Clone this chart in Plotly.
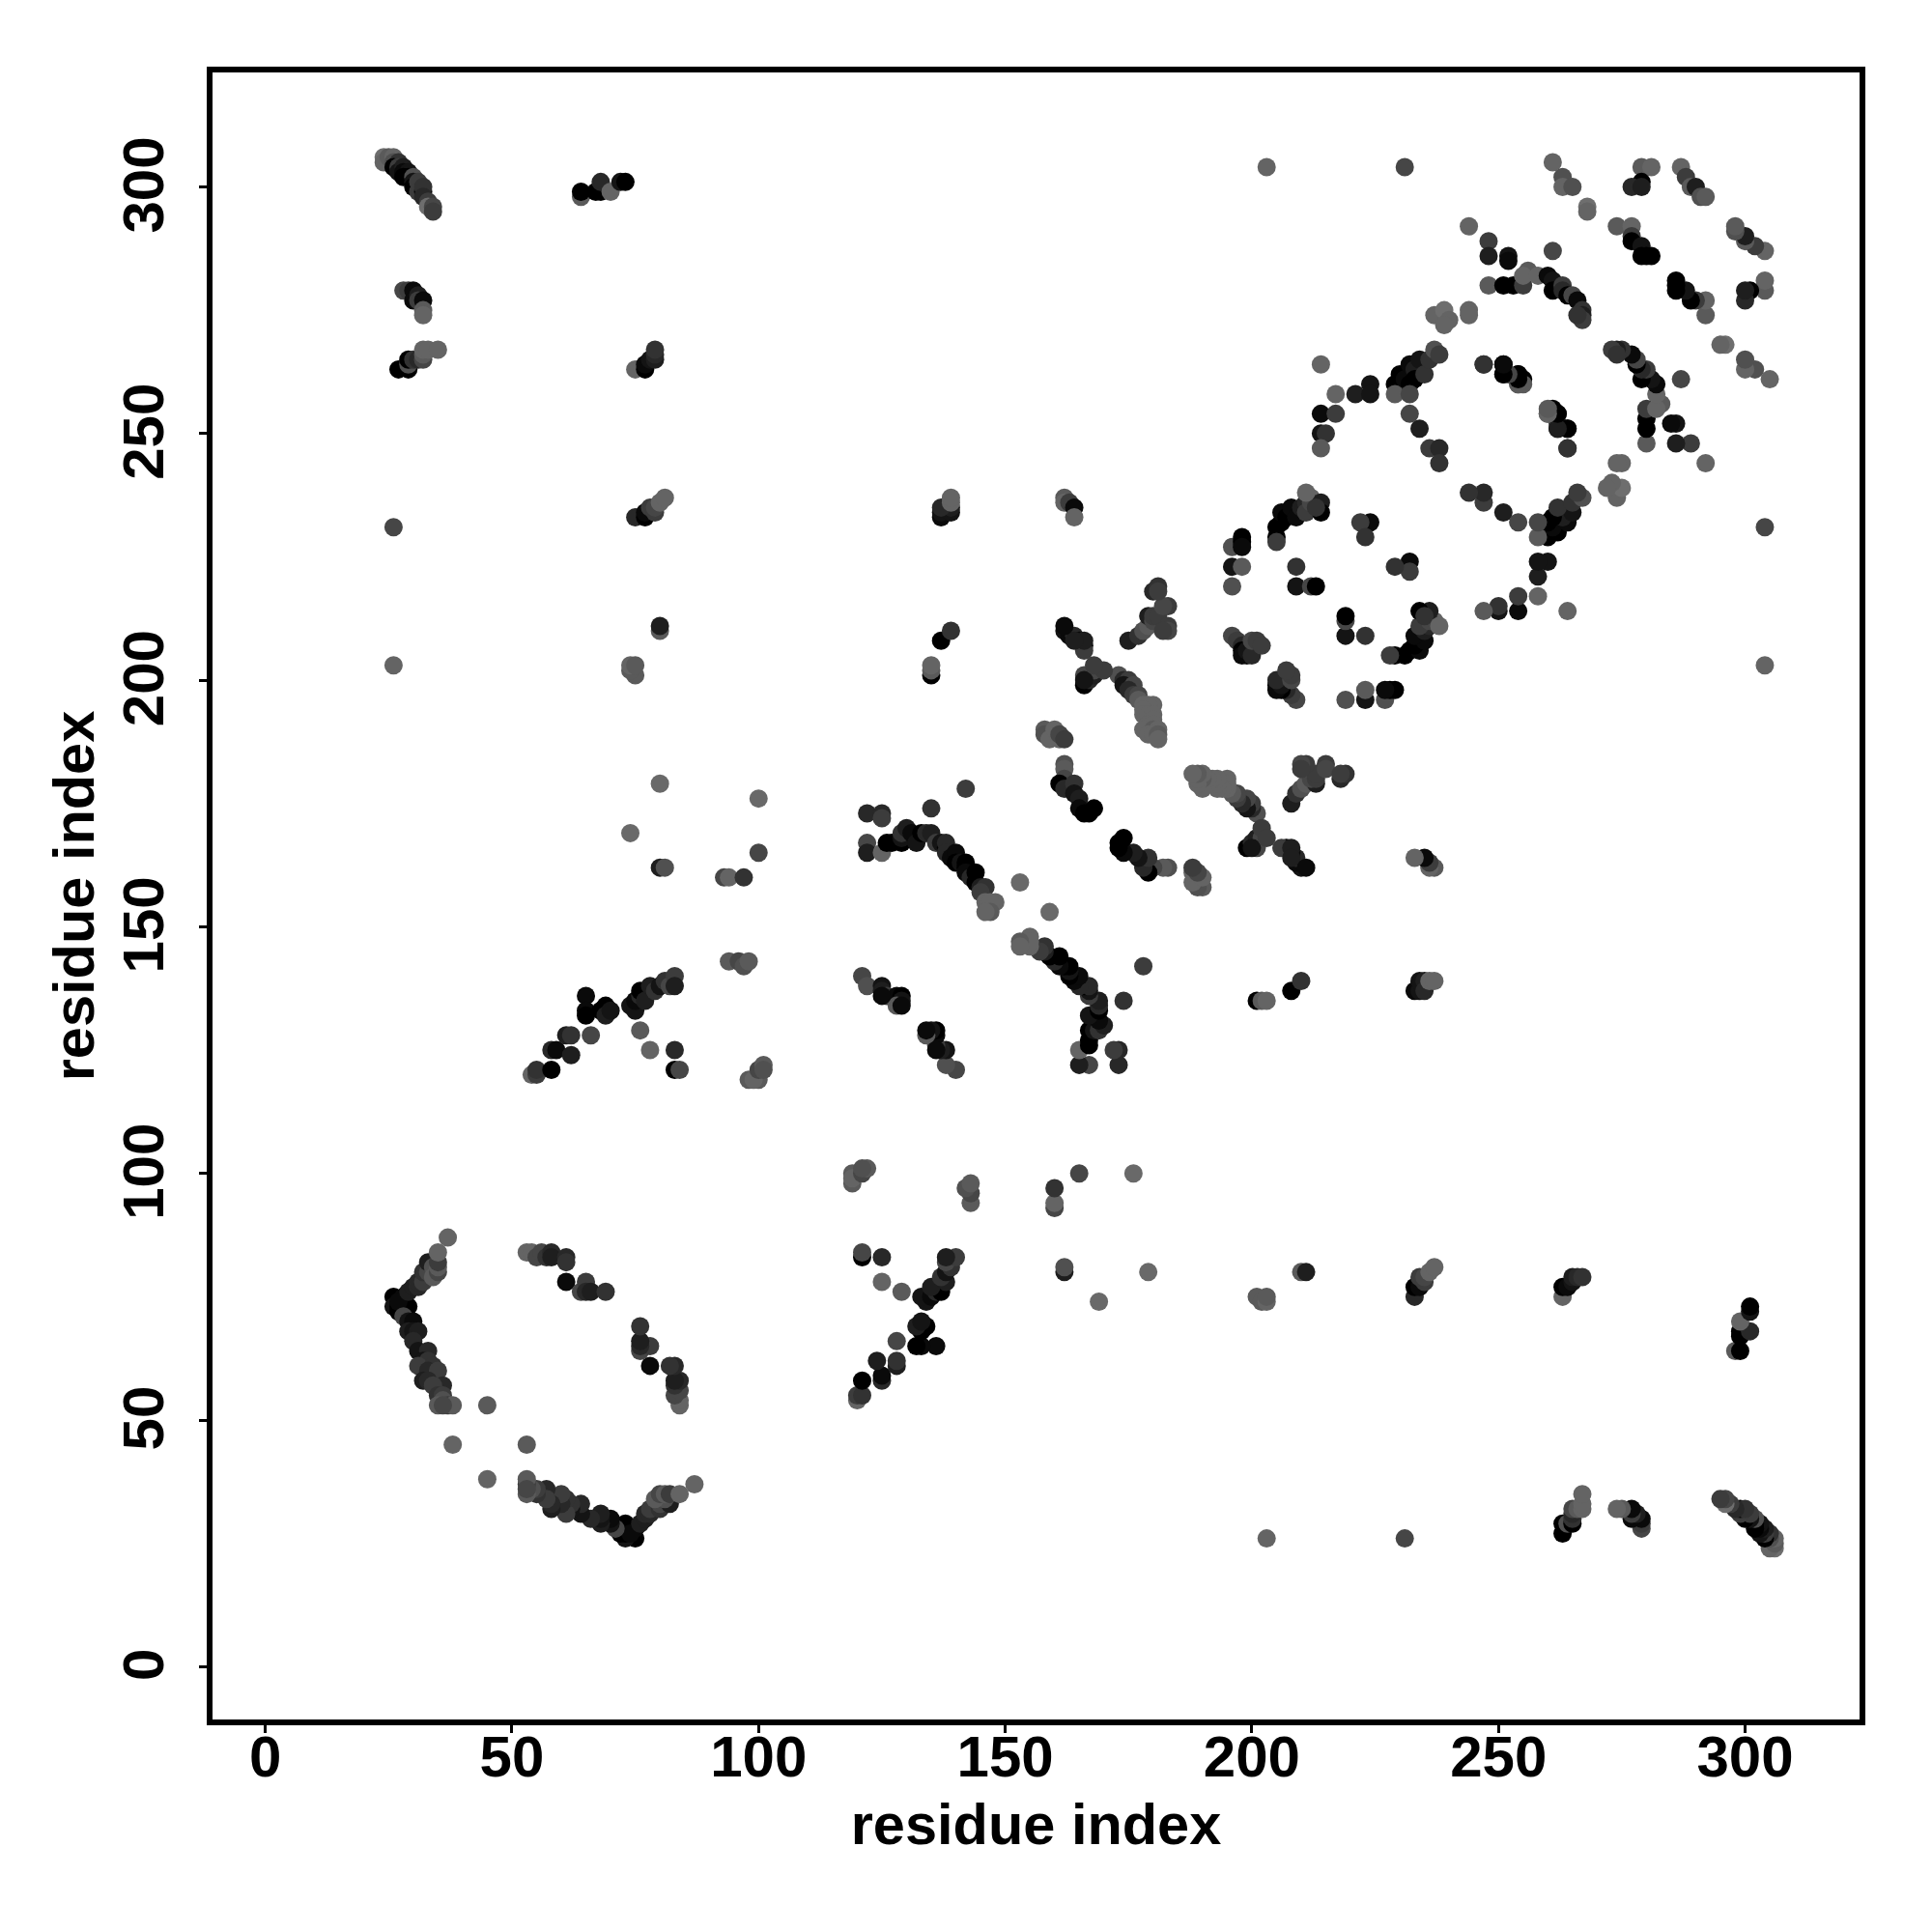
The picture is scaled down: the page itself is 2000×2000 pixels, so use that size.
import plotly.graph_objects as go

contacts = [
 (24,306,110),(24,305,100),(25,306,90),(26,306,100),(26,305,80),(27,305,50),(26,304,0),(27,304,60),(27,303,20),(28,304,30),(28,303,10),(29,303,20),(28,302,0),(29,302,0),(30,302,80),(30,301,20),(30,300,0),(31,300,0),(31,301,60),(31,299,60),(32,299,10),(32,300,50),(32,298,40),(33,297,60),(33,296,110),(34,296,70),(34,295,60),
 (64,298,90),(64,299,0),(67,299,0),(68,299,0),(68,301,40),(70,299,100),(72,301,20),(73,301,0),
 (28,279,70),(29,279,60),(30,279,10),(30,277,10),(31,278,30),(31,277,60),(32,277,10),(32,275,90),(32,274,100),
 (27,263,0),(29,263,0),(29,264,80),(29,265,0),(30,265,50),(31,265,40),(32,265,70),(32,266,90),(32,267,100),(33,267,100),(35,267,100),
 (75,263,100),(77,263,0),(77,264,10),(78,265,20),(79,265,30),(79,266,40),(79,267,50),
 (26,231,70),(26,203,100),
 (75,233,40),(77,233,0),(77,234,10),(78,235,60),(79,234,60),(79,235,70),(80,236,100),(81,237,100),
 (80,210,90),(80,211,30),(75,201,90),(74,202,90),(74,203,100),(75,203,90),
 (80,179,105),(74,169,105),(80,162,30),(81,162,80),
 (93,160,70),(94,160,100),(97,160,50),(100,176,105),(100,165,70),
 (137,233,10),(137,234,20),(139,234,20),(139,235,30),(137,235,40),(139,236,100),(139,237,100),
 (137,208,0),(139,210,50),(135,201,0),(135,202,90),(135,203,100),
 (162,237,90),(162,236,100),(163,236,60),(164,235,10),(164,233,100),
 (122,173,40),(125,173,40),(125,172,60),(122,167,70),(122,165,30),(125,165,100),(126,167,0),(127,167,0),(129,167,0),
 (129,168,20),(129,169,50),(130,170,30),(131,169,10),(132,167,20),
 (133,169,0),(134,169,40),(135,169,30),(136,167,60),(137,167,20),(138,166,0),(138,167,40),(138,165,40),(139,164,10),(140,165,10),(140,163,0),(141,163,20),(142,163,0),(142,162,0),(142,161,10),(143,160,40),(144,161,0),(144,159,0),(145,158,30),(146,158,50),(145,157,60),(146,155,100),(148,155,100),(147,155,100),(147,153,90),(146,153,100),
 (135,174,50),(142,178,60),(153,159,105),
 (162,183,80),(162,182,90),(162,180,70),(161,179,0),(162,178,40),(164,179,50),(164,177,20),(165,176,30),(165,174,10),(166,173,0),(167,173,0),(168,174,0),
 (158,190,90),(158,189,80),(159,188,100),(160,190,100),(161,188,100),(161,189,70),(162,188,60),
 (173,201,80),(174,200,40),(175,200,60),(174,199,20),(176,199,70),(175,198,40),(176,197,60),(177,197,70),(177,196,90),(178,195,100),(180,195,100),(179,195,100),(178,194,100),(178,193,100),(179,193,100),(180,193,100),(180,192,100),(179,191,100),(180,191,100),(178,190,100),(180,190,90),(181,190,100),(179,189,100),(180,189,100),(181,189,90),(181,188,100),
 (162,210,20),(163,209,10),(164,209,40),(165,208,10),(166,207,0),(166,206,60),(166,199,0),(167,200,40),(166,201,70),(168,201,30),(168,202,70),(170,202,60),(166,200,20),(168,203,60),(166,208,30),(164,208,30),(162,211,10),
 (175,208,30),(177,209,50),(178,210,80),(179,211,90),(179,213,30),(180,212,70),(180,213,60),(181,213,60),(183,211,60),(183,210,70),(182,210,60),(183,215,60),(182,215,70),(180,218,40),(181,219,50),(181,218,60),
 (196,209,70),(197,208,60),(198,207,40),(198,206,0),(198,205,10),(199,205,10),(199,206,20),(200,205,40),(200,208,70),(201,208,60),(202,207,60),
 (203,304,100),(231,304,70),(261,305,100),(263,302,80),(263,300,100),(265,300,80),(268,296,110),(268,295,100),
 (274,292,90),(277,292,100),(277,290,60),(277,289,0),(279,288,20),(279,286,0),(280,286,0),(281,286,0),
 (279,304,90),(281,304,100),(279,301,0),(277,300,40),(279,300,30),(287,304,100),(288,302,60),(289,300,90),(290,300,30),(291,298,80),(292,298,90),
 (244,292,100),(248,289,60),(248,286,30),(252,286,20),(252,285,10),(248,280,90),(251,280,0),(253,280,0),(255,280,60),(256,283,90),(255,282,100),(258,282,100),(261,287,70),(260,282,10),(261,281,20),(261,279,0),(263,280,60),(263,279,40),(264,278,0),(265,278,70),(266,277,10),(267,275,50),(267,274,30),(267,273,60),(266,274,50),
 (237,274,100),(239,275,110),(240,273,100),(239,272,100),(244,275,100),(244,274,100),
 (229,260,0),(230,262,0),(231,261,10),(232,264,10),(233,263,30),(233,261,0),(232,260,0),(234,265,20),(235,262,50),(236,265,50),(237,267,80),(238,266,60),(229,258,90),(232,258,70),(232,254,70),(234,251,30),(236,247,60),(238,247,40),(238,244,50),
 (214,264,100),(217,258,100),(221,258,30),(224,260,20),(224,258,20),(214,254,10),(217,254,60),(214,250,20),(215,250,50),(214,247,90),
 (247,264,50),(251,264,0),(251,262,30),(254,262,0),(255,261,0),(254,260,100),(255,260,90),
 (260,254,90),(261,254,0),(262,254,0),(262,252,70),(262,251,0),(264,251,10),(264,247,50),
 (205,231,0),(205,229,0),(205,228,60),(206,232,0),(206,234,10),(207,233,0),(208,235,10),(209,233,10),(210,235,30),(211,236,40),(211,234,60),(212,237,100),(212,236,70),(214,236,30),(214,234,0),(213,235,50),(211,238,100),
 (196,227,80),(198,229,0),(198,228,0),(198,227,10),(196,223,20),(198,223,90),(196,219,80),
 (224,232,10),(222,232,60),(223,229,50),(209,223,50),(209,219,20),(212,219,70),(213,219,0),
 (54,120,100),(55,120,60),(55,121,50),(58,121,0),(58,125,40),(59,125,10),(61,128,30),(62,128,50),(62,124,30),(65,136,10),(65,133,10),(65,132,0),(66,128,70),(68,133,0),(69,134,0),(69,132,30),(70,133,20),(74,134,20),(75,133,20),(75,135,10),(76,136,40),(76,137,0),(77,135,30),(78,138,30),(79,137,50),(80,138,20),(81,139,50),(82,138,70),(83,140,60),(83,138,30),(76,129,90),(78,125,100),(83,125,40),(83,121,0),(84,121,70),
 (94,143,90),(96,143,70),(97,142,80),(98,143,90),(98,119,90),(100,119,90),(99,119,100),(100,121,70),(101,122,90),(101,121,80),
 (121,140,70),(122,138,80),(125,138,20),(125,137,30),(126,136,60),(128,136,10),(129,136,0),(129,135,20),(128,134,90),(129,134,10),(125,136,10),
 (26,75,0),(26,73,20),(27,73,0),(27,72,0),(28,73,0),(28,75,10),(29,73,0),(27,74,10),(28,71,70),(29,76,30),(30,77,30),(31,77,40),(31,78,40),(32,78,60),(32,80,50),(33,80,70),(33,82,30),(34,81,80),(34,79,90),(35,80,70),(35,81,90),(35,82,60),(35,84,100),(37,87,100),
 (29,70,20),(30,70,10),(29,68,30),(30,68,20),(31,68,30),(30,66,40),(31,64,20),(33,64,40),(32,62,20),(33,62,50),(31,61,60),(34,61,50),(33,60,40),(35,60,60),(32,58,30),(33,58,40),(36,57,40),(34,57,60),(35,55,50),(36,55,60),(36,54,80),(35,53,90),(37,53,60),(38,53,90),(36,53,70),
 (38,45,100),(45,53,90),
 (53,84,100),(54,84,100),(55,83,70),(56,84,70),(57,83,50),(58,84,40),(58,83,30),(61,83,40),(61,82,50),(61,78,10),(64,76,70),(65,78,60),(65,76,40),(66,76,30),(69,76,50),
]

residue_i = [c[0] for c in contacts]
residue_j = [c[1] for c in contacts]
grey_level = [c[2] for c in contacts]
tick_values = [0, 50, 100, 150, 200, 250, 300]
axis_title = "residue index"

xs = residue_i + residue_j
ys = residue_j + residue_i
greys = grey_level + grey_level
colors = [f"rgb({g},{g},{g})" for g in greys]

fig = go.Figure(go.Scatter(x=xs, y=ys, mode="markers",
                           marker=dict(size=19, color=colors, line=dict(width=0))))

title_font = dict(family="Liberation Sans", size=59.5, color="black")
tick_font = dict(family="Liberation Sans", size=60, color="black")
axis = dict(range=[-10.7, 323.2], showgrid=False, zeroline=False, showline=True, mirror=True,
            linecolor="black", linewidth=5.5, ticks="outside", ticklen=8, tickwidth=3, tickcolor="black",
            tickmode="array", tickvals=tick_values, ticktext=[f"<b>{t}</b>" for t in tick_values],
            tickfont=tick_font)
fig.update_layout(
    width=2000, height=2000, paper_bgcolor="white", plot_bgcolor="white", showlegend=False,
    margin=dict(l=219.5, r=2000-1925.5, t=74.5, b=2000-1780.5, autoexpand=False),
    xaxis=dict(axis, title=dict(text=f"<b>{axis_title}</b>", font=title_font, standoff=19), tickangle=0, ticklabelstandoff=-27),
    yaxis=dict(axis, title=dict(text=f"<b>{axis_title}</b>", font=title_font, standoff=0), tickangle=-90, ticklabelstandoff=13, ticklabelshift=7),
)
fig.write_html("out.html", config={"displayModeBar": False}, post_script="document.body.style.margin='0';")
